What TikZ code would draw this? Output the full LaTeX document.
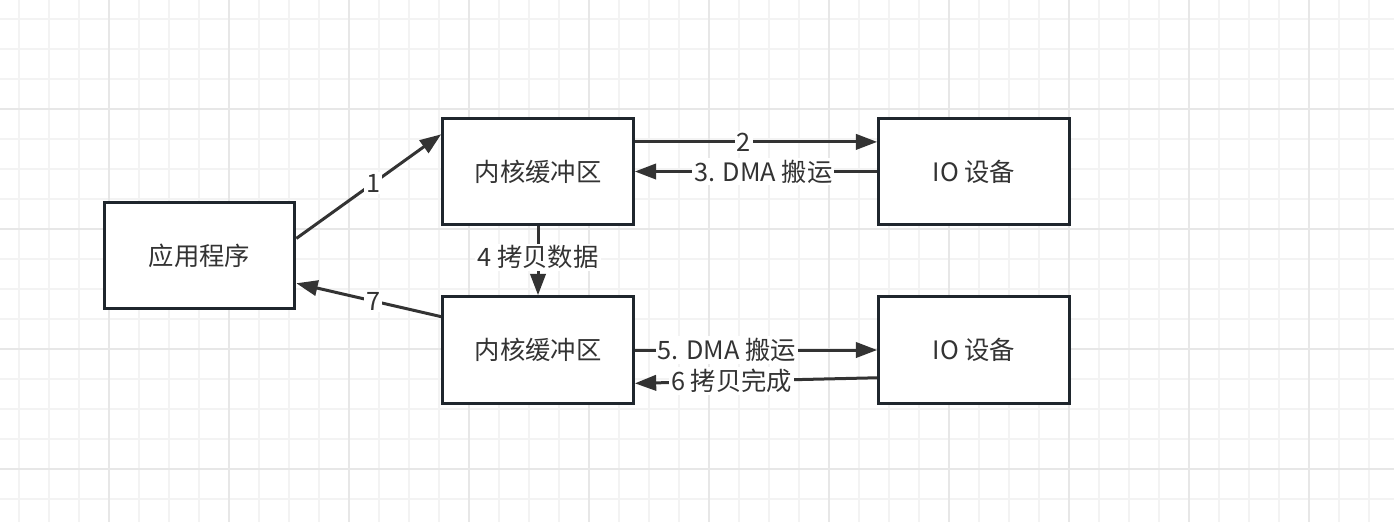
\documentclass[tikz,border=0pt]{standalone}
\usepackage{fontspec}
\setmainfont{Noto Sans CJK SC}
\usepackage{tikz}
\usetikzlibrary{arrows.meta}

\definecolor{boxline}{HTML}{1F262D}
\definecolor{inkgrey}{HTML}{333333}
\definecolor{gridminor}{HTML}{F3F3F3}
\definecolor{gridmajor}{HTML}{E7E7E7}

\begin{document}
\begin{tikzpicture}[x=0.75pt,y=-0.75pt,
  box/.style={draw=boxline,line width=2.25pt,fill=white,minimum width=143pt,
    minimum height=80pt,inner sep=0pt,text=inkgrey,font=\fontsize{19}{22}\selectfont},
  flow/.style={draw=inkgrey,line width=2.25pt,-{Triangle[length=16pt,width=11.5pt]}},
  lbl/.style={fill=white,inner sep=1.5pt,text=inkgrey,font=\fontsize{19}{22}\selectfont}]
  % Page and grid paper
  \useasboundingbox (0,0) rectangle (1394,522);
  \fill[white] (0,0) rectangle (1394,522);
  \foreach \k in {0,...,45}{
    \draw[gridminor,line width=1pt] ({19+30*\k},0) -- ({19+30*\k},522);
  }
  \foreach \k in {0,...,16}{
    \draw[gridminor,line width=1pt] (0,{19+30*\k}) -- (1394,{19+30*\k});
  }
  \foreach \k in {3,7,...,43}{
    \draw[gridmajor,line width=1pt] ({19+30*\k},0) -- ({19+30*\k},522);
  }
  \foreach \k in {3,7,11,15}{
    \draw[gridmajor,line width=1pt] (0,{19+30*\k}) -- (1394,{19+30*\k});
  }
  % Boxes
  \node[box] (app) at (199.5,255.5) {应用程序};
  \node[box] (kt)  at (538,171.5) {内核缓冲区};
  \node[box] (io1) at (974,171.5) {IO 设备};
  \node[box] (kb)  at (538,350) {内核缓冲区};
  \node[box] (io2) at (974,350) {IO 设备};
  % Read path
  \draw[flow] (app.10) -- node[lbl,pos=0.53]{1} (kt.159);
  \draw[flow] (kt.17) -- node[lbl,pos=0.45]{2} (io1.163);
  \draw[flow] (io1.west) -- node[lbl,pos=0.47]{3. DMA 搬运} (kt.east);
  \draw[flow] (kt.south) -- node[lbl,pos=0.45]{4 拷贝数据} (kb.north);
  % Write path
  \draw[flow] (kb.east) -- node[lbl,pos=0.38]{5. DMA 搬运} (io2.west);
  \draw[flow] (io2.196) -- node[lbl,pos=0.6]{6 拷贝完成} (kb.-19.5);
  \draw[flow] (kb.161.6) -- node[lbl,pos=0.47]{7} (app.-16);
\end{tikzpicture}
\end{document}
